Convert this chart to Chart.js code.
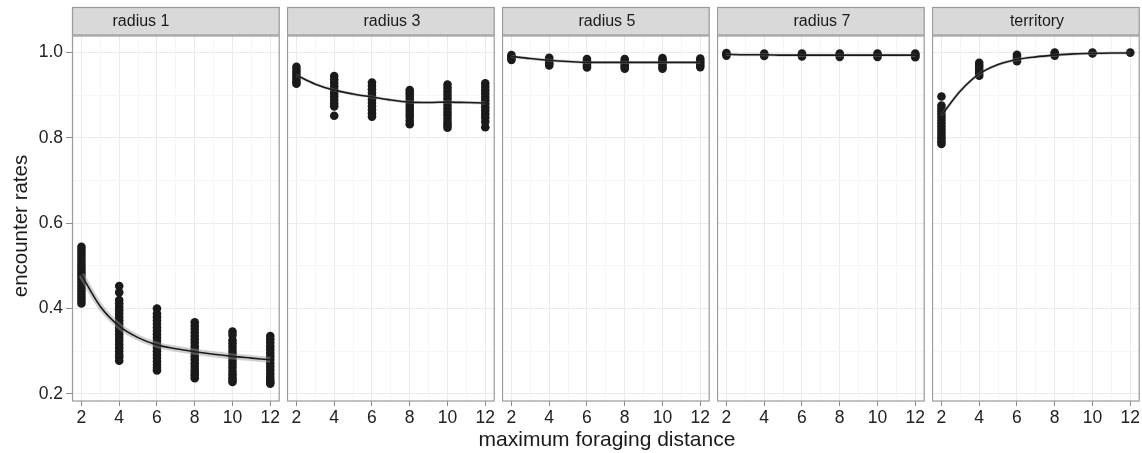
<!DOCTYPE html>
<html>
<head>
<meta charset="utf-8">
<script src="https://cdn.jsdelivr.net/npm/chart.js@4.4.1/dist/chart.umd.min.js"></script>
<style>
  body { margin: 0; background: #fff; width: 1142px; height: 453px; position: relative; overflow: hidden; font-family: 'Liberation Sans', Arial, sans-serif; }
  canvas { position: absolute; top: 0; }
  #xTitle { position: absolute; left: 72px; width: 1070px; top: 427px; text-align: center; font-size: 21px; line-height: 24px; color: #1a1a1a; }
  #yTitle { position: absolute; left: -80px; top: 214px; width: 200px; text-align: center; font-size: 20.5px; line-height: 24px; color: #1a1a1a; transform: rotate(-90deg); }
</style>
</head>
<body>
<div id="panels"></div>
<div id="yTitle">encounter rates</div>
<div id="xTitle">maximum foraging distance</div>
<script>
// facets
const panelNames = ['radius 1', 'radius 3', 'radius 5', 'radius 7', 'territory'];
const distances = [2, 4, 6, 8, 10, 12];
const xTicks = [2, 3, 4, 5, 6, 7, 8, 9, 10, 11, 12];
const yTicks = [0.2, 0.3, 0.4, 0.5, 0.6, 0.7, 0.8, 0.9, 1.0];

// encounter rates per distance (one list per distance)
const radius1Pts = [
  [0.545, 0.538, 0.531, 0.524, 0.517, 0.51, 0.503, 0.496, 0.489, 0.482, 0.475, 0.468, 0.461, 0.454, 0.447, 0.44, 0.433, 0.426, 0.419, 0.412],
  [0.453, 0.438, 0.42, 0.412, 0.404, 0.396, 0.388, 0.38, 0.372, 0.364, 0.356, 0.348, 0.34, 0.332, 0.324, 0.316, 0.308, 0.3, 0.292, 0.286, 0.278],
  [0.40, 0.388, 0.38, 0.372, 0.364, 0.356, 0.348, 0.34, 0.332, 0.324, 0.316, 0.308, 0.3, 0.292, 0.284, 0.276, 0.268, 0.261, 0.255],
  [0.368, 0.36, 0.352, 0.344, 0.336, 0.328, 0.32, 0.312, 0.304, 0.296, 0.288, 0.28, 0.272, 0.264, 0.256, 0.249, 0.243, 0.237],
  [0.346, 0.338, 0.326, 0.318, 0.31, 0.302, 0.294, 0.286, 0.278, 0.27, 0.262, 0.254, 0.246, 0.239, 0.233, 0.228],
  [0.336, 0.328, 0.32, 0.312, 0.304, 0.296, 0.288, 0.28, 0.272, 0.264, 0.256, 0.248, 0.24, 0.233, 0.228, 0.224]
];
const radius3Pts = [
  [0.967, 0.96, 0.953, 0.946, 0.939, 0.932, 0.927],
  [0.945, 0.937, 0.929, 0.921, 0.913, 0.905, 0.897, 0.889, 0.881, 0.874, 0.852],
  [0.93, 0.922, 0.914, 0.906, 0.898, 0.89, 0.882, 0.874, 0.866, 0.858, 0.85],
  [0.912, 0.905, 0.898, 0.891, 0.884, 0.877, 0.87, 0.863, 0.856, 0.849, 0.84, 0.832],
  [0.925, 0.917, 0.909, 0.901, 0.893, 0.885, 0.877, 0.869, 0.861, 0.853, 0.845, 0.837, 0.83, 0.824],
  [0.928, 0.92, 0.912, 0.904, 0.896, 0.888, 0.88, 0.872, 0.864, 0.856, 0.848, 0.838, 0.825]
];
const radius5Pts = [
  [0.994, 0.99, 0.986, 0.983],
  [0.988, 0.983, 0.978, 0.974, 0.97],
  [0.985, 0.98, 0.975, 0.97, 0.965],
  [0.985, 0.98, 0.975, 0.97, 0.966, 0.962],
  [0.987, 0.982, 0.977, 0.972, 0.967, 0.962],
  [0.986, 0.981, 0.976, 0.971, 0.966]
];
const radius7Pts = [
  [0.999, 0.996, 0.993],
  [0.998, 0.995, 0.992],
  [0.998, 0.995, 0.991],
  [0.998, 0.994, 0.99],
  [0.998, 0.994, 0.99],
  [0.998, 0.995, 0.992, 0.989]
];
const territoryPts = [
  [0.897, 0.876, 0.869, 0.862, 0.855, 0.848, 0.841, 0.834, 0.827, 0.82, 0.813, 0.806, 0.799, 0.792, 0.786],
  [0.976, 0.97, 0.964, 0.958, 0.952, 0.946],
  [0.995, 0.99, 0.985, 0.98],
  [1.0, 0.996, 0.993],
  [1.0, 0.998],
  [1.0]
];

// smoothed fit, read at x = 2..12
const fitX = [2, 3, 4, 5, 6, 7, 8, 9, 10, 11, 12];
const radius1Fit = [0.479, 0.405, 0.359, 0.332, 0.315, 0.306, 0.299, 0.293, 0.288, 0.284, 0.280];
const radius3Fit = [0.947, 0.926, 0.912, 0.903, 0.896, 0.889, 0.884, 0.883, 0.884, 0.883, 0.882];
const radius5Fit = [0.991, 0.986, 0.982, 0.979, 0.977, 0.977, 0.977, 0.977, 0.977, 0.977, 0.977];
const radius7Fit = [0.996, 0.995, 0.995, 0.994, 0.994, 0.994, 0.994, 0.994, 0.994, 0.994, 0.994];
const territoryFit = [0.853, 0.91, 0.95, 0.972, 0.984, 0.99, 0.994, 0.997, 0.998, 0.999, 0.999];

const allPts = [radius1Pts, radius3Pts, radius5Pts, radius7Pts, territoryPts];
const allFits = [radius1Fit, radius3Fit, radius5Fit, radius7Fit, territoryFit];

const FONT = "'Liberation Sans', Arial, sans-serif";
const isMajorX = v => Math.round(v) % 2 === 0;
const isMajorY = v => Math.round(v * 10) % 2 === 0;

// strip on top + border round the panel, like facet_wrap
const facetPlugin = {
  id: 'facet',
  beforeDraw(chart) {
    const { ctx, chartArea } = chart;
    ctx.save();
    ctx.fillStyle = '#D9D9D9';
    ctx.fillRect(chartArea.left, 7, chartArea.right - chartArea.left, 28);
    ctx.strokeStyle = '#9A9A9A';
    ctx.lineWidth = 1.2;
    ctx.strokeRect(chartArea.left + 0.5, 7.5, chartArea.right - chartArea.left - 1, 27.5);
    ctx.restore();
  },
  afterDraw(chart) {
    const { ctx, chartArea } = chart;
    ctx.save();
    ctx.strokeStyle = '#9A9A9A';
    ctx.lineWidth = 1.2;
    ctx.strokeRect(chartArea.left + 0.5, chartArea.top, chartArea.right - chartArea.left - 1, chartArea.bottom - chartArea.top);
    ctx.restore();
  }
};

const holder = document.getElementById('panels');

panelNames.forEach((name, p) => {
  const first = p === 0;
  const left = first ? 0 : 72 + 215 * p;
  const width = first ? 282 : 210;
  const canvas = document.createElement('canvas');
  canvas.width = width;
  canvas.height = 453;
  canvas.style.left = left + 'px';
  holder.appendChild(canvas);

  const points = [];
  distances.forEach((d, i) => allPts[p][i].forEach(v => points.push({ x: d, y: v })));
  const fit = fitX.map((x, i) => ({ x: x, y: allFits[p][i] }));

  new Chart(canvas, {
    type: 'scatter',
    data: {
      datasets: [
        {
          type: 'line', data: fit, borderColor: '#1a1a1a', borderWidth: 1.6,
          pointRadius: 0, cubicInterpolationMode: 'monotone', fill: false
        },
        {
          type: 'line', data: fit, borderColor: 'rgba(150,150,150,0.45)', borderWidth: first ? 6 : 3,
          pointRadius: 0, cubicInterpolationMode: 'monotone', fill: false
        },
        {
          data: points, backgroundColor: '#1a1a1a', borderWidth: 0, pointRadius: 4.3
        }
      ]
    },
    options: {
      responsive: false,
      animation: false,
      events: [],
      layout: { padding: 0, autoPadding: false },
      plugins: {
        legend: { display: false },
        tooltip: { enabled: false },
        title: {
          display: true, text: name, color: '#1a1a1a',
          font: { family: FONT, size: 16, weight: 'normal', lineHeight: 1.2 },
          padding: { top: 11.5, bottom: 5.3 }
        }
      },
      scales: {
        x: {
          type: 'linear', min: 1.5, max: 12.5,
          afterBuildTicks: axis => { axis.ticks = xTicks.map(v => ({ value: v })); },
          afterFit: axis => { axis.height = 52; },
          border: { display: false },
          grid: {
            color: ctx => isMajorX(ctx.tick ? ctx.tick.value : 0) ? '#EBEBEB' : '#F6F6F6',
            tickColor: ctx => isMajorX(ctx.tick ? ctx.tick.value : 0) ? '#8A8A8A' : 'rgba(0,0,0,0)',
            tickLength: 5, lineWidth: 1
          },
          ticks: {
            autoSkip: false, maxRotation: 0, padding: 2, color: '#222',
            font: { family: FONT, size: 17.5 },
            callback: v => isMajorX(v) ? String(v) : ''
          }
        },
        y: {
          type: 'linear', min: 0.1835, max: 1.0389,
          afterBuildTicks: axis => { axis.ticks = yTicks.map(v => ({ value: v })); },
          afterFit: axis => { axis.width = first ? 72 : 0; },
          border: { display: false },
          grid: {
            color: ctx => isMajorY(ctx.tick ? ctx.tick.value : 0) ? '#EBEBEB' : '#F6F6F6',
            tickColor: ctx => isMajorY(ctx.tick ? ctx.tick.value : 0) ? '#8A8A8A' : 'rgba(0,0,0,0)',
            drawTicks: first, tickLength: 6, lineWidth: 1
          },
          ticks: {
            display: first, autoSkip: false, padding: 3, color: '#222',
            font: { family: FONT, size: 17.5 },
            callback: v => isMajorY(v) ? v.toFixed(1) : ''
          }
        }
      }
    },
    plugins: [facetPlugin]
  });
});
</script>
</body>
</html>
